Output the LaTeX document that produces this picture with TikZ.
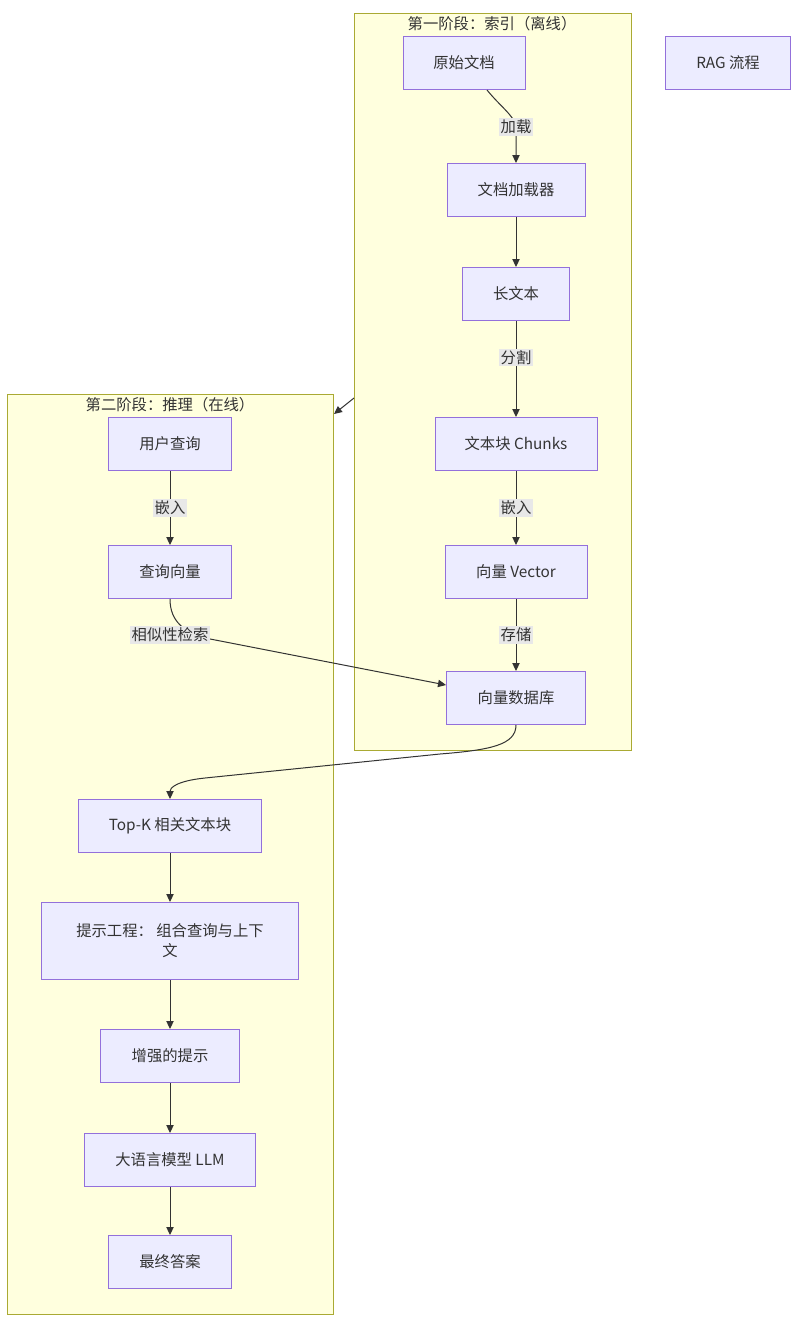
\documentclass[tikz,border=0pt]{standalone}
\usepackage{fontspec}
\setmainfont{Noto Sans CJK SC}
\usetikzlibrary{arrows.meta}
\definecolor{nodefill}{HTML}{ECECFF}
\definecolor{nodeline}{HTML}{9370DB}
\definecolor{clfill}{HTML}{FFFFDE}
\definecolor{clline}{HTML}{AAAA33}
\definecolor{txt}{HTML}{333333}
\definecolor{lblbg}{HTML}{E8E8E8}
\definecolor{edge}{HTML}{333333}
\tikzset{
  box/.style={draw=nodeline,fill=nodefill,line width=0.75pt,text=txt,font=\fontsize{11.5pt}{15pt}\selectfont,align=center,inner sep=0pt},
  cluster/.style={draw=clline,fill=clfill,line width=0.75pt},
  ctitle/.style={text=txt,font=\fontsize{11.5pt}{14pt}\selectfont,inner sep=0pt},
  lbl/.style={fill=lblbg,text=txt,font=\fontsize{11.5pt}{14pt}\selectfont,inner sep=1.2pt},
  arr/.style={draw=edge,line width=0.75pt,-{Triangle[length=6pt,width=5.5pt]}},
}
\newcommand\bx[6]{\node[box,minimum width=#5*0.75pt,minimum height=#6*0.75pt] (#1) at (#2,#3) {#4};}
\begin{document}
\begin{tikzpicture}[x=0.75pt,y=-0.75pt]
\useasboundingbox (0,0) rectangle (800,1329);
\fill[white] (0,0) rectangle (800,1329);
% clusters
\draw[cluster] (354,13) rectangle (631,750);
\node[ctitle] (t1) at (492,24) {第一阶段：索引（离线）};
\draw[cluster] (7,394) rectangle (333,1314);
\node[ctitle] (t2) at (170,405) {第二阶段：推理（在线）};
% nodes
\bx{rag}{728}{63}{RAG 流程}{125}{53}
\bx{doc}{464}{63}{原始文档}{122}{53}
\bx{ldr}{516}{190}{文档加载器}{138}{53}
\bx{long}{516}{294}{长文本}{107}{53}
\bx{chk}{516}{444}{文本块 Chunks}{162}{53}
\bx{vec}{516}{572}{向量 Vector}{142}{53}
\bx{vdb}{516}{698}{向量数据库}{139}{53}
\bx{uq}{170}{444}{用户查询}{123}{53}
\bx{qv}{170}{572}{查询向量}{123}{53}
\bx{topk}{170}{826}{Top-K 相关文本块}{183}{53}
\bx{pe}{170}{941}{提示工程： 组合查询与上下\\文}{257}{77}
\bx{aug}{170}{1056}{增强的提示}{139}{53}
\bx{llm}{170}{1160}{大语言模型 LLM}{171}{53}
\bx{ans}{170}{1262}{最终答案}{123}{53}
% coordinates
\coordinate (c1) at (354,398);
\coordinate (c2) at (334,414);
% edges
\draw[arr] ([xshift=23*0.75pt]doc.south) .. controls (500,106) and (512,114) .. (516,125) -- (ldr.north);
\node[lbl] (l1) at (516,127) {加载};
\draw[arr] (ldr) -- (long);
\draw[arr] (long) -- node[lbl,pos=0.38] (l2) {分割} (chk);
\draw[arr] (chk) -- node[lbl] (l3) {嵌入} (vec);
\draw[arr] (vec) -- node[lbl] (l4) {存储} (vdb);
\draw[arr] (uq) -- node[lbl] (l5) {嵌入} (qv);
\draw[arr] (qv.south) .. controls (170,622) and (185,632) .. (205,638) -- ([yshift=13*0.75pt]vdb.west);
\node[lbl] (l6) at (170,635) {相似性检索};
\draw[arr] (vdb.south) .. controls (516,745) and (490,750) .. (440,754) -- (205,778) .. controls (176,781) and (170,788) .. (topk.north);
\draw[arr] (topk) -- (pe);
\draw[arr] (pe) -- (aug);
\draw[arr] (aug) -- (llm);
\draw[arr] (llm) -- (ans);
\draw[arr] (c1) -- (c2);
\end{tikzpicture}
\end{document}
